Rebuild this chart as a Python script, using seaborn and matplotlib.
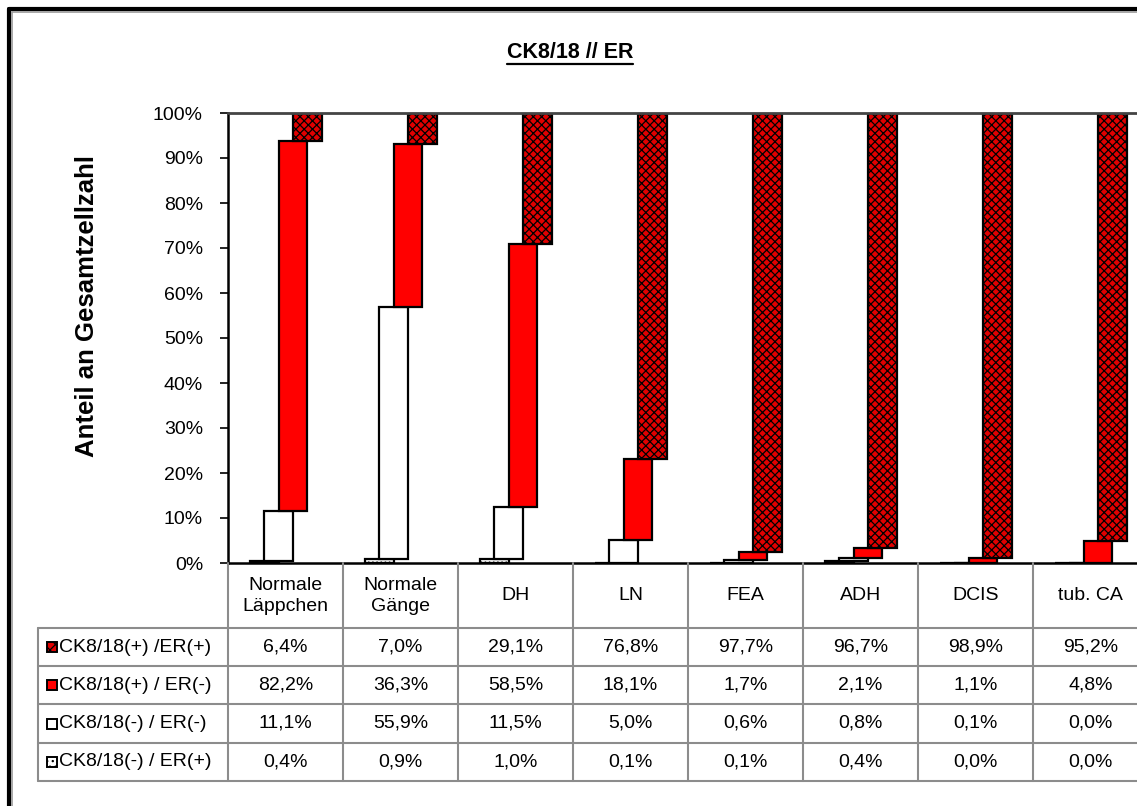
import numpy as np
import pandas as pd
import seaborn as sns
import matplotlib.pyplot as plt
from matplotlib.lines import Line2D
from matplotlib.patches import Rectangle

# Daten aus der Tabelle
kategorien = ['Normale\nLäppchen', 'Normale\nGänge', 'DH', 'LN', 'FEA', 'ADH', 'DCIS', 'tub. CA']
ck_pos_er_pos = [6.4, 7.0, 29.1, 76.8, 97.7, 96.7, 98.9, 95.2]
ck_pos_er_neg = [82.2, 36.3, 58.5, 18.1, 1.7, 2.1, 1.1, 4.8]
ck_neg_er_neg = [11.1, 55.9, 11.5, 5.0, 0.6, 0.8, 0.1, 0.0]
ck_neg_er_pos = [0.4, 0.9, 1.0, 0.1, 0.1, 0.4, 0.0, 0.0]
reihen_namen = ['CK8/18(+) /ER(+)', 'CK8/18(+) / ER(-)', 'CK8/18(-) / ER(-)', 'CK8/18(-) / ER(+)']
yticks = [0, 10, 20, 30, 40, 50, 60, 70, 80, 90, 100]

sns.set_style('white')
plt.rcParams['font.family'] = ['Liberation Sans', 'DejaVu Sans']
plt.rcParams['text.color'] = 'black'
plt.rcParams['ytick.color'] = 'black'
plt.rcParams['ytick.labelcolor'] = 'black'
plt.rcParams['hatch.linewidth'] = 0.9

W, H = 1137, 806
fig = plt.figure(figsize=(W/100, H/100), dpi=100)

# Plotbereich (reicht rechts ueber das Bild hinaus)
x0, x1, y0, y1 = 228, 1148, 113, 563
ax = fig.add_axes([x0/W, 1-y1/H, (x1-x0)/W, (y1-y0)/H])

pos = np.arange(len(kategorien))
# Reihenfolge von unten nach oben
stapel = [ck_neg_er_pos, ck_neg_er_neg, ck_pos_er_neg, ck_pos_er_pos]
offsets = [-0.185, -0.06, 0.065, 0.19]
stile = [dict(color='white', hatch='....'),
         dict(color='white'),
         dict(color='#ff0000'),
         dict(color='#e00000', hatch='xxxx')]
bottom = np.zeros(len(kategorien))
for vals, off, st in zip(stapel, offsets, stile):
    vals = np.array(vals)
    df = pd.DataFrame({'x': pos+off, 'y': vals})
    sns.barplot(data=df, x='x', y='y', native_scale=True, width=0.25, errorbar=None,
                saturation=1, bottom=bottom.copy(), edgecolor='black', linewidth=1.6,
                ax=ax, **st)
    bottom = bottom+vals

ax.set_xlim(-0.5, 7.5)
ax.set_ylim(0, 100)
ax.set_xticks([])
ax.set_yticks(yticks)
ax.set_yticklabels([f'{t}%' for t in yticks], fontsize=14)
ax.tick_params(axis='y', left=True, length=6, width=1.2, pad=12, color='black')
ax.set_xlabel('')
ax.set_ylabel('')
for s in ['left', 'bottom']:
    ax.spines[s].set_color('black')
    ax.spines[s].set_linewidth(1.8)
ax.spines['top'].set_color('#444444')
ax.spines['top'].set_linewidth(2)
ax.spines['right'].set_visible(False)

fig.text(87/W, 1-306/H, 'Anteil an Gesamtzellzahl', rotation=90, ha='center', va='center',
         fontsize=18.5, fontweight='bold')

# Overlay fuer Tabelle, Rahmen, Titel (Pixelkoordinaten)
ov = fig.add_axes([0, 0, 1, 1], zorder=5)
ov.set_xlim(0, W)
ov.set_ylim(H, 0)
ov.axis('off')
ov.patch.set_alpha(0)

grau = '#8c8c8c'
zeilen = [628, 666, 704, 743, 781]
spalten = [x0+115*i for i in range(9)]
for yy in zeilen:
    ov.add_line(Line2D([38, W+20], [yy, yy], color=grau, lw=1.5))
for xx in spalten:
    ov.add_line(Line2D([xx, xx], [y1, 781], color=grau, lw=1.5))
ov.add_line(Line2D([38, 38], [628, 781], color=grau, lw=1.5))

for i, k in enumerate(kategorien):
    cx = x0+115*i+57.5
    ov.text(cx, 596, k, ha='center', va='center', fontsize=14, linespacing=1.35)
    for j, vals in enumerate([ck_pos_er_pos, ck_pos_er_neg, ck_neg_er_neg, ck_neg_er_pos]):
        cy = (zeilen[j]+zeilen[j+1])/2
        ov.text(cx, cy, f'{vals[i]:.1f}%'.replace('.', ','), ha='center', va='center', fontsize=14)

legenden_stile = [dict(fc='#e00000', hatch='xxx'), dict(fc='#ff0000'), dict(fc='white'), dict(fc='white', hatch='...')]
for j, (name, st) in enumerate(zip(reihen_namen, legenden_stile)):
    cy = (zeilen[j]+zeilen[j+1])/2
    ov.add_patch(Rectangle((47, cy-5), 10, 10, ec='black', lw=1.4, **st))
    ov.text(59, cy, name, ha='left', va='center', fontsize=14)

# Titel mit Unterstreichung
t = ov.text(570, 52, 'CK8/18 // ER', ha='center', va='center', fontsize=15.5, fontweight='bold')
fig.canvas.draw()
bb = t.get_window_extent().transformed(ov.transData.inverted())
ov.add_line(Line2D([bb.x0, bb.x1], [64, 64], color='black', lw=1.6))

# Aeusserer Rahmen
ov.add_line(Line2D([9, 9], [9, H+5], color='black', lw=3))
ov.add_line(Line2D([9, W+5], [9, 9], color='black', lw=3))
ov.add_line(Line2D([12, 12], [12, H+5], color='#999999', lw=1.2))
ov.add_line(Line2D([12, W+5], [12, 12], color='#999999', lw=1.2))

fig.savefig('out.png', dpi=100)
